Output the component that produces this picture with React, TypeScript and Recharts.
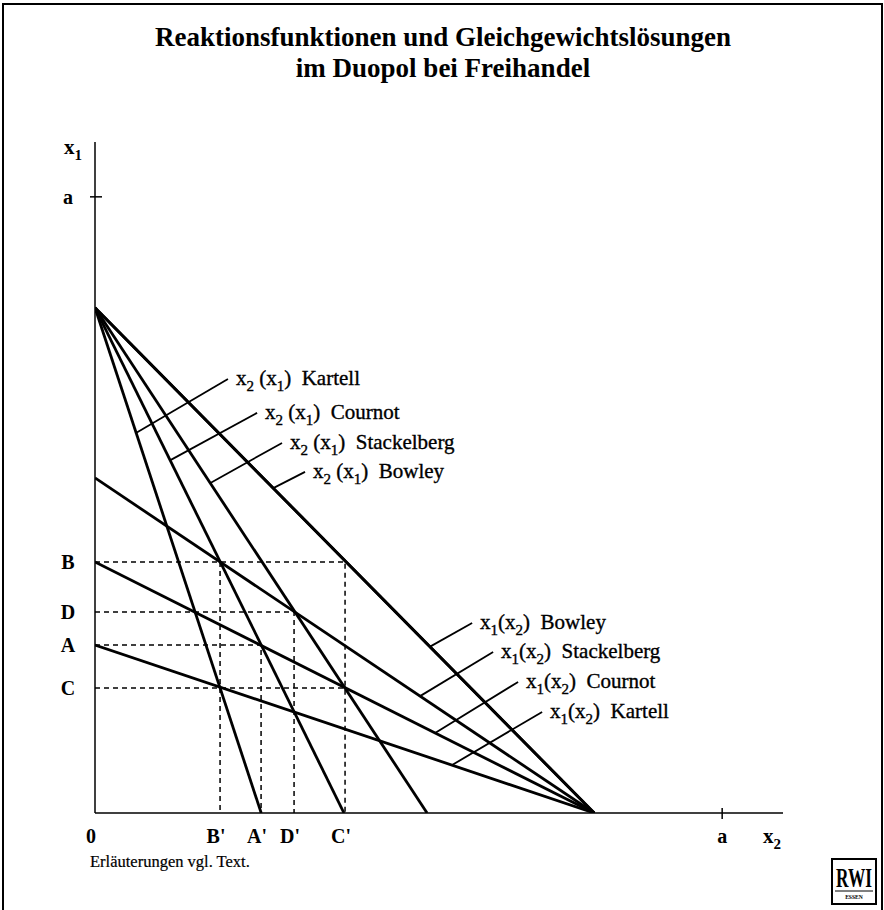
import { ComposedChart, Line, XAxis, YAxis, LabelList, Label } from 'recharts'

const FONT = '"Liberation Serif", "Times New Roman", serif'

// axis extents, in units of a
const X_MAX = 1.097
const Y_MAX = 1.089
const A = 1

// all x2(x1) lines start at the same point on the x1 axis,
// all x1(x2) lines end at the same point on the x2 axis
const x1Intercept = 0.82
const x2Intercept = 0.796

const regimes = ['Kartell', 'Cournot', 'Stackelberg', 'Bowley']
const x2x1Ends = [0.265, 0.397, 0.5295, 0.796]
const x1x2Starts = [0.2727, 0.4075, 0.5438, 0.82]

// label leader lines [xStart, yStart, xEnd, yEnd], same order as regimes
const x2x1Leaders = [
  [0.066, 0.617, 0.212, 0.7045],
  [0.121, 0.5731, 0.2584, 0.6494],
  [0.184, 0.5357, 0.2982, 0.6006],
  [0.285, 0.5276, 0.3349, 0.5536],
]
const x1x2Leaders = [
  [0.5694, 0.0779, 0.7129, 0.164],
  [0.5423, 0.1298, 0.6746, 0.2127],
  [0.5183, 0.1897, 0.6348, 0.2614],
  [0.5343, 0.27, 0.6013, 0.3084],
]

// equilibrium marks
const xMarks = ["B'", "A'", "D'", "C'"]
const xMarkValues = [0.1994, 0.2648, 0.3174, 0.3987]
const yMarks = ['B', 'D', 'A', 'C']
const yMarkValues = [0.4075, 0.3263, 0.2727, 0.2029]

const xv = (k: string) => xMarkValues[xMarks.indexOf(k)]
const yv = (k: string) => yMarkValues[yMarks.indexOf(k)]

const guides = [
  [[0, yv('B')], [xv("C'"), yv('B')], [xv("C'"), 0]],
  [[0, yv('D')], [xv("D'"), yv('D')], [xv("D'"), 0]],
  [[0, yv('A')], [xv("A'"), yv('A')], [xv("A'"), 0]],
  [[0, yv('C')], [xv("C'"), yv('C')]],
  [[xv("B'"), yv('B')], [xv("B'"), 0]],
]

const pts = (arr: number[][]) => arr.map(([x, y]) => ({ x, y }))

const xTicks = [0, ...xMarkValues, A]
const yTicks = [A, ...yMarkValues]

function XTick(props: any) {
  const { x, y, payload } = props
  const v = payload.value
  const isA = v === A
  const text = v === 0 ? '0' : isA ? 'a' : xMarks[xMarkValues.indexOf(v)]
  return (
    <g>
      {isA && <line x1={x} x2={x} y1={y - 5} y2={y + 6} stroke="#000" strokeWidth={1.5} />}
      <text x={isA ? x : x - 4} y={y + 30} textAnchor="middle" fontFamily={FONT} fontWeight="bold" fontSize={20} fill="#000">
        {text}
      </text>
    </g>
  )
}

function YTick(props: any) {
  const { x, y, payload } = props
  const v = payload.value
  const isA = v === A
  const text = isA ? 'a' : yMarks[yMarkValues.indexOf(v)]
  return (
    <g>
      {isA && <line x1={x - 5} x2={x + 7} y1={y} y2={y} stroke="#000" strokeWidth={1.5} />}
      <text x={x - 27} y={y + 7} textAnchor="middle" fontFamily={FONT} fontWeight="bold" fontSize={20} fill="#000">
        {text}
      </text>
    </g>
  )
}

function FnText({ x, y, outer, inner, gap, name }: any) {
  return (
    <text x={x + 8} y={y + 6} fontFamily={FONT} fontSize={21} fill="#000" stroke="#000" strokeWidth={0.35}>
      <tspan>x</tspan>
      <tspan dy={6} fontSize={15}>{outer}</tspan>
      <tspan dy={-6}>{gap}(x</tspan>
      <tspan dy={6} fontSize={15}>{inner}</tspan>
      <tspan dy={-6}>{')\u00a0\u00a0' + name}</tspan>
    </text>
  )
}

const leaderLabel = (outer: string, inner: string, gap: string, name: string) => (p: any) => {
  if (p.index !== 1) return null
  const x = p.x ?? p.viewBox?.x
  const y = p.y ?? p.viewBox?.y
  return <FnText x={x} y={y} outer={outer} inner={inner} gap={gap} name={name} />
}

const axisTitle = (sub: string, dx: number, dy: number) => (p: any) => {
  const vb = p.viewBox
  return (
    <text x={vb.x + dx} y={vb.y + dy} fontFamily={FONT} fontWeight="bold" fontSize={21} fill="#000">
      <tspan>x</tspan>
      <tspan dy={6} fontSize={15}>{sub}</tspan>
    </text>
  )
}

export default function App() {
  return (
    <div style={{ position: 'absolute', left: 0, top: 0, width: 884, height: 910, background: '#fff', overflow: 'hidden' }}>
      <div style={{ position: 'absolute', left: 2, top: 3, width: 877, height: 930, borderTop: '2px solid #000', borderLeft: '2px solid #000', borderRight: '2px solid #000' }} />
      <svg width={884} height={910} style={{ position: 'absolute', left: 0, top: 0 }}>
        <text x={443} y={46} textAnchor="middle" fontFamily={FONT} fontWeight="bold" fontSize={27}>
          Reaktionsfunktionen und Gleichgewichtslösungen
        </text>
        <text x={443} y={77} textAnchor="middle" fontFamily={FONT} fontWeight="bold" fontSize={27}>
          im Duopol bei Freihandel
        </text>
        <text x={90} y={867} fontFamily={FONT} fontSize={16.5} stroke="#000" strokeWidth={0.2}>
          Erläuterungen vgl. Text.
        </text>
        <rect x={832} y={859} width={44} height={45} fill="#fff" stroke="#000" strokeWidth={2} />
        <g transform="translate(854 887) scale(0.72 1.1)">
          <text x={0} y={0} textAnchor="middle" fontFamily={FONT} fontWeight="bold" fontSize={24}>
            RWI
          </text>
        </g>
        <line x1={835} x2={873} y1={891} y2={891} stroke="#000" strokeWidth={1} />
        <g transform="translate(854 899) scale(0.8 1)">
          <text x={0} y={0} textAnchor="middle" fontFamily={FONT} fontWeight="bold" fontSize={7}>
            ESSEN
          </text>
        </g>
      </svg>
      <div style={{ position: 'absolute', left: 0, top: 0 }}>
        <ComposedChart width={884} height={910} margin={{ top: 142, right: 101, bottom: 67, left: 35 }}>
          <XAxis
            type="number"
            dataKey="x"
            domain={[0, X_MAX]}
            ticks={xTicks}
            interval={0}
            tick={<XTick />}
            tickSize={0}
            tickMargin={0}
            tickLine={false}
            height={30}
            axisLine={{ stroke: '#000', strokeWidth: 1.5 }}
            allowDataOverflow
          >
            <Label content={axisTitle('2', 668, 30)} />
          </XAxis>
          <YAxis
            type="number"
            dataKey="y"
            domain={[0, Y_MAX]}
            ticks={yTicks}
            interval={0}
            tick={<YTick />}
            tickSize={0}
            tickMargin={0}
            tickLine={false}
            width={60}
            axisLine={{ stroke: '#000', strokeWidth: 1.5 }}
            allowDataOverflow
          >
            <Label content={axisTitle('1', 29, 12)} />
          </YAxis>

          {guides.map((g, i) => (
            <Line
              key={`guide-${i}`}
              data={pts(g)}
              dataKey="y"
              type="linear"
              stroke="#000"
              strokeWidth={1.5}
              strokeDasharray="5 4"
              dot={false}
              activeDot={false}
              isAnimationActive={false}
            />
          ))}

          {x2x1Ends.map((end, i) => (
            <Line
              key={`x2x1-${i}`}
              data={pts([[0, x1Intercept], [end, 0]])}
              dataKey="y"
              type="linear"
              stroke="#000"
              strokeWidth={2.8}
              dot={false}
              activeDot={false}
              isAnimationActive={false}
            />
          ))}
          {x1x2Starts.map((start, i) => (
            <Line
              key={`x1x2-${i}`}
              data={pts([[0, start], [x2Intercept, 0]])}
              dataKey="y"
              type="linear"
              stroke="#000"
              strokeWidth={2.8}
              dot={false}
              activeDot={false}
              isAnimationActive={false}
            />
          ))}

          {x2x1Leaders.map((l, i) => (
            <Line
              key={`lead-x2x1-${i}`}
              data={pts([[l[0], l[1]], [l[2], l[3]]])}
              dataKey="y"
              type="linear"
              stroke="#000"
              strokeWidth={1.8}
              dot={false}
              activeDot={false}
              isAnimationActive={false}
            >
              <LabelList dataKey="y" content={leaderLabel('2', '1', '\u00a0', regimes[i])} />
            </Line>
          ))}
          {x1x2Leaders.map((l, i) => (
            <Line
              key={`lead-x1x2-${i}`}
              data={pts([[l[0], l[1]], [l[2], l[3]]])}
              dataKey="y"
              type="linear"
              stroke="#000"
              strokeWidth={1.8}
              dot={false}
              activeDot={false}
              isAnimationActive={false}
            >
              <LabelList dataKey="y" content={leaderLabel('1', '2', '', regimes[i])} />
            </Line>
          ))}
        </ComposedChart>
      </div>
    </div>
  )
}
